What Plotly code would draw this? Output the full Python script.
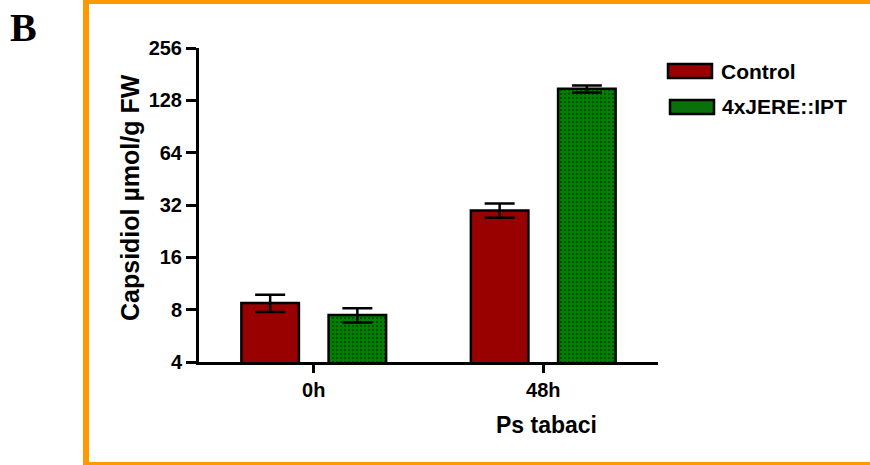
import plotly.graph_objects as go

categories = ["0h", "48h"]
control_vals = [8.75, 29.8]
control_err = [1.0, 2.8]
jere_vals = [7.45, 149.0]
jere_err = [0.7, 7.0]
series_names = ["Control", "4xJERE::IPT"]
y_tickvals = [4, 8, 16, 32, 64, 128, 256]
y_ticktext = ["4", "8", "16", "32", "64", "128", "256"]

W, H = 870, 465
L, R, T, B = 199, 212, 48, 103
PW, PH = W - L - R, H - T - B

def px(x):
    return (x - L) / PW

def py(y):
    return (H - B - y) / PH

FONT = "Liberation Sans"
RED = "#990000"
GREEN = "#008000"

fig = go.Figure()
fig.add_trace(go.Bar(
    x=categories, y=control_vals, name=series_names[0],
    marker=dict(color=RED, line=dict(color="black", width=2.5)),
    error_y=dict(type="data", array=control_err, visible=True,
                 color="black", thickness=2.5, width=15),
    showlegend=False,
))
fig.add_trace(go.Bar(
    x=categories, y=jere_vals, name=series_names[1],
    marker=dict(color=GREEN, line=dict(color="black", width=2.5),
                pattern=dict(shape=".", fgcolor="black", bgcolor=GREEN,
                             size=4, solidity=0.12, fillmode="replace")),
    error_y=dict(type="data", array=jere_err, visible=True,
                 color="black", thickness=2.5, width=15),
    showlegend=False,
))

tickfont = dict(family=FONT, size=20, color="black", weight="bold")

fig.update_layout(
    width=W, height=H,
    margin=dict(l=L, r=R, t=T, b=B, autoexpand=False),
    paper_bgcolor="white", plot_bgcolor="white",
    barmode="group", bargap=0.24, bargroupgap=0.34,
    font=dict(family=FONT, color="black", size=20),
    xaxis=dict(
        range=[-0.5, 1.5], showgrid=False, zeroline=False,
        showline=True, linecolor="black", linewidth=3,
        ticks="outside", ticklen=8, tickwidth=3, tickcolor="black",
        tickfont=tickfont,
    ),
    yaxis=dict(
        type="log", range=[0.60206, 2.40824], showgrid=False, zeroline=False,
        showline=True, linecolor="black", linewidth=3,
        ticks="outside", ticklen=10, tickwidth=3, tickcolor="black",
        tickvals=y_tickvals, ticktext=y_ticktext,
        tickfont=tickfont,
    ),
    showlegend=False,
)

shapes = []
ORANGE = "#FF9900"
shapes.append(dict(type="rect", xref="paper", yref="paper", x0=px(83), x1=px(89), y0=py(467), y1=py(-2),
                   fillcolor=ORANGE, line=dict(width=0), layer="below"))
shapes.append(dict(type="rect", xref="paper", yref="paper", x0=px(83), x1=px(872), y0=py(4), y1=py(-2),
                   fillcolor=ORANGE, line=dict(width=0), layer="below"))
shapes.append(dict(type="rect", xref="paper", yref="paper", x0=px(83), x1=px(872), y0=py(467), y1=py(462),
                   fillcolor=ORANGE, line=dict(width=0), layer="below"))
shapes.append(dict(type="rect", xref="paper", yref="paper", x0=px(668), x1=px(712), y0=py(78), y1=py(64),
                   fillcolor=RED, line=dict(color="black", width=2.5)))
shapes.append(dict(type="rect", xref="paper", yref="paper", x0=px(670), x1=px(714), y0=py(114), y1=py(100),
                   fillcolor="#0a700a", line=dict(color="black", width=2.5)))
fig.update_layout(shapes=shapes)

annotations = [
    dict(text="<b>Capsidiol µmol/g FW</b>", x=px(130), y=py(198), xref="paper", yref="paper",
         textangle=-90, showarrow=False, xanchor="center", yanchor="middle",
         font=dict(family=FONT, size=25, color="black")),
    dict(text="<b>Ps tabaci</b>", x=px(546), y=py(425), xref="paper", yref="paper",
         showarrow=False, xanchor="center", yanchor="middle",
         font=dict(family=FONT, size=23, color="black")),
    dict(text="<b>" + series_names[0] + "</b>", x=px(719), y=py(71), xref="paper", yref="paper",
         showarrow=False, xanchor="left", yanchor="middle",
         font=dict(family=FONT, size=21, color="black")),
    dict(text="<b>" + series_names[1] + "</b>", x=px(720), y=py(107), xref="paper", yref="paper",
         showarrow=False, xanchor="left", yanchor="middle",
         font=dict(family=FONT, size=21, color="black")),
    dict(text="<b>B</b>", x=px(8), y=py(3), xref="paper", yref="paper",
         showarrow=False, xanchor="left", yanchor="top",
         font=dict(family="Liberation Serif", size=40, color="black")),
]
fig.update_layout(annotations=annotations)

fig.write_html("out.html", config={"displayModeBar": False})

with open("out.html", "r", encoding="utf-8") as f:
    html = f.read()
html = html.replace("<head>", "<head><style>html,body{margin:0;padding:0;overflow:hidden;}</style>", 1)
with open("out.html", "w", encoding="utf-8") as f:
    f.write(html)
